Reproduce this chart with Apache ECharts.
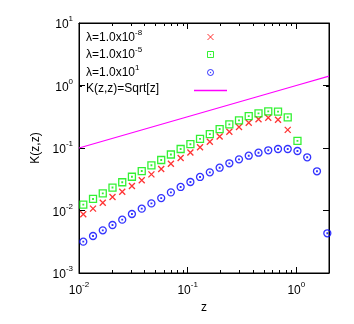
<!DOCTYPE html>
<html>
<head>
<meta charset="utf-8">
<script src="https://cdn.jsdelivr.net/npm/echarts@6/dist/echarts.min.js"></script>
<style>
  html, body { margin: 0; padding: 0; background: #fff; }
  #main { width: 354px; height: 324px; }
</style>
</head>
<body>
<div id="main"></div>
<script>
// z positions of the sampled points (log spaced)
var zVals = [0.01095, 0.01346, 0.01655, 0.02034, 0.0250, 0.0307, 0.0378, 0.0464, 0.0571, 0.0701,
  0.0862, 0.106, 0.130, 0.160, 0.197, 0.242, 0.297, 0.365, 0.449, 0.552,
  0.679, 0.834, 1.025, 1.26, 1.55, 1.93];
// K(z,z) for the three lambdas
var kLam8 = [0.00869, 0.0107, 0.0133, 0.0164, 0.0200, 0.0247, 0.0304, 0.0379, 0.0461, 0.0561,
  0.0692, 0.0847, 0.103, 0.126, 0.153, 0.182, 0.217, 0.254, 0.288, 0.305, 0.284, 0.195];
var kLam5 = [0.0124, 0.0153, 0.0188, 0.0233, 0.0283, 0.0347, 0.0428, 0.0529, 0.0643, 0.0787,
  0.0964, 0.115, 0.140, 0.167, 0.201, 0.239, 0.277, 0.323, 0.359, 0.386, 0.381, 0.310, 0.130];
var kLam1 = [0.00317, 0.00391, 0.00482, 0.00586, 0.00713, 0.00879, 0.0107, 0.0130, 0.0158, 0.0195,
  0.0238, 0.0286, 0.0344, 0.0408, 0.0484, 0.0569, 0.0659, 0.0753, 0.0841, 0.0919,
  0.0964, 0.0964, 0.0895, 0.0710, 0.0424, 0.00432];
// reference curve Sqrt[z]
var sqrtZ = [0.01, 0.1, 1, 2];
var sqrtK = [0.1, 0.3162, 1, 1.4142];
// minor tick positions
var minorX = [0.02, 0.03, 0.04, 0.05, 0.06, 0.07, 0.08, 0.09,
  0.2, 0.3, 0.4, 0.5, 0.6, 0.7, 0.8, 0.9];
var minorY = [0.002, 0.003, 0.004, 0.005, 0.006, 0.007, 0.008, 0.009,
  0.02, 0.03, 0.04, 0.05, 0.06, 0.07, 0.08, 0.09,
  0.2, 0.3, 0.4, 0.5, 0.6, 0.7, 0.8, 0.9,
  2, 3, 4, 5, 6, 7, 8, 9];
var seriesNames = ['lam8', 'lam5', 'lam1', 'sqrt'];
var legendText = ['{t|λ=1.0x10}{s|-8}', '{t|λ=1.0x10}{s|-5}', '{t|λ=1.0x10}{s|1}', '{t|K(z,z)=Sqrt[z]}'];

function pairs(xs, ys) {
  return ys.map(function (y, i) { return [xs[i], y]; });
}

var FONT = 'Liberation Sans';
var supRich = {
  b: { fontFamily: FONT, fontSize: 12, color: '#000', lineHeight: 16, verticalAlign: 'bottom' },
  s: { fontFamily: FONT, fontSize: 8, color: '#000', lineHeight: 10, verticalAlign: 'top' }
};
var legRich = {
  t: { fontFamily: FONT, fontSize: 12, color: '#000', lineHeight: 15, verticalAlign: 'bottom' },
  s: { fontFamily: FONT, fontSize: 8, color: '#000', lineHeight: 9, verticalAlign: 'top' }
};

function powLabel(v) {
  var e = Math.round(Math.log10(v));
  if (Math.abs(v - Math.pow(10, e)) > 1e-9 * v) return '';
  return '{b|10}{s|' + e + '}';
}

var CROSS = 'path://M0,0L10,10M10,0L0,10';
var BOXDOT = 'path://M0,0L10,0L10,10L0,10Z M4.6,4.6L5.4,4.6L5.4,5.4L4.6,5.4Z';
var CIRCDOT = 'path://M10,5A5,5 0 1 1 0,5A5,5 0 1 1 10,5Z M4.6,4.6L5.4,4.6L5.4,5.4L4.6,5.4Z';

function minorTicks(axis) {
  return function (params, api) {
    var cs = params.coordSys;
    var v = api.value(0);
    var children = [];
    var st = { stroke: '#000', lineWidth: 1 };
    if (axis === 'x') {
      var x = Math.round(api.coord([v, 1])[0]) + 0.5;
      children.push({ type: 'line', shape: { x1: x, y1: cs.y + cs.height, x2: x, y2: cs.y + cs.height - 3 }, style: st });
      children.push({ type: 'line', shape: { x1: x, y1: cs.y, x2: x, y2: cs.y + 3 }, style: st });
    } else {
      var y = Math.round(api.coord([1, v])[1]) + 0.5;
      children.push({ type: 'line', shape: { x1: cs.x, y1: y, x2: cs.x + 3, y2: y }, style: st });
      children.push({ type: 'line', shape: { x1: cs.x + cs.width, y1: y, x2: cs.x + cs.width - 3, y2: y }, style: st });
    }
    return { type: 'group', children: children };
  };
}

// legend rows: one legend per entry so the symbol column lines up on the right
var rowY = [36.5, 54, 72, 90.5];
var legends = seriesNames.map(function (n, i) {
  var isLine = n === 'sqrt';
  var h = isLine ? 1.5 : 6;
  return {
    left: 194,
    top: rowY[i] - h / 2,
    padding: 0,
    itemWidth: 33,
    itemHeight: h,
    selectedMode: false,
    itemStyle: { borderWidth: 1 },
    formatter: function () { return ''; },
    data: isLine ? [{ name: n, icon: 'rect', itemStyle: { color: '#ff00ff', borderWidth: 0 } }] : [n]
  };
});
var legendLabels = legendText.map(function (txt, i) {
  return {
    type: 'text', left: 86, top: rowY[i] - 8, silent: true,
    style: { text: txt, rich: legRich }
  };
});

var chart = echarts.init(document.getElementById('main'));
var axisCommon = {
  type: 'log',
  axisLine: { show: true, lineStyle: { color: '#000', width: 1 } },
  axisTick: { show: true, inside: true, length: 6, lineStyle: { color: '#000' } },
  splitLine: { show: false },
  minorTick: { show: false }
};

chart.setOption({
  animation: false,
  grid: { left: 79, top: 23, right: 25, bottom: 51, show: true, borderColor: '#000', borderWidth: 1 },
  legend: legends,
  graphic: legendLabels,
  xAxis: [
    Object.assign({}, axisCommon, {
      min: 0.01, max: 2,
      name: 'z', nameLocation: 'middle', nameGap: 24,
      nameTextStyle: { fontFamily: FONT, fontSize: 12, color: '#000' },
      axisLabel: { margin: 8, formatter: powLabel, rich: supRich, showMaxLabel: false }
    }),
    Object.assign({}, axisCommon, {
      min: 0.01, max: 2, position: 'top',
      axisLabel: { show: false }
    })
  ],
  yAxis: [
    Object.assign({}, axisCommon, {
      min: 0.001, max: 10,
      name: 'K(z,z)', nameLocation: 'middle', nameGap: 35, nameRotate: 90,
      nameTextStyle: { fontFamily: FONT, fontSize: 12, color: '#000' },
      axisLabel: { margin: 6, formatter: powLabel, rich: supRich }
    }),
    Object.assign({}, axisCommon, {
      min: 0.001, max: 10, position: 'right',
      axisLabel: { show: false }
    })
  ],
  series: [
    {
      name: 'lam8', type: 'scatter', symbol: CROSS, symbolSize: 6,
      itemStyle: { color: 'rgba(0,0,0,0)', borderColor: '#ff0000', borderWidth: 1.3 },
      data: pairs(zVals, kLam8)
    },
    {
      name: 'lam5', type: 'scatter', symbol: BOXDOT, symbolSize: 7,
      itemStyle: { color: 'rgba(0,0,0,0)', borderColor: '#00ee00', borderWidth: 1.3 },
      data: pairs(zVals, kLam5)
    },
    {
      name: 'lam1', type: 'scatter', symbol: CIRCDOT, symbolSize: 7,
      itemStyle: { color: 'rgba(0,0,0,0)', borderColor: '#0000ff', borderWidth: 1.3 },
      data: pairs(zVals, kLam1)
    },
    {
      name: 'sqrt', type: 'line', symbol: 'none',
      lineStyle: { color: '#ff00ff', width: 1.2 },
      itemStyle: { color: '#ff00ff' },
      data: pairs(sqrtZ, sqrtK)
    },
    {
      type: 'custom', silent: true, renderItem: minorTicks('x'),
      data: minorX.map(function (v) { return [v, 1]; })
    },
    {
      type: 'custom', silent: true, renderItem: minorTicks('y'),
      data: minorY.map(function (v) { return [1, v]; })
    }
  ]
});
</script>
</body>
</html>
